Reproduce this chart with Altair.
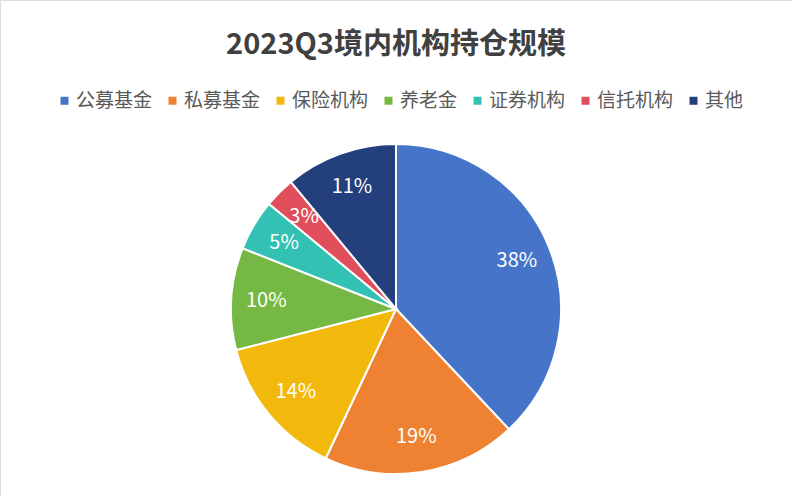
import altair as alt
import pandas as pd

TITLE = "2023Q3境内机构持仓规模"
categories = ["公募基金", "私募基金", "保险机构", "养老金", "证券机构", "信托机构", "其他"]
shares = [38, 19, 14, 10, 5, 3, 11]
labels = ["38%", "19%", "14%", "10%", "5%", "3%", "11%"]
colors = ["#4674C9", "#EE8232", "#F2B80C", "#75B843", "#33C1B3", "#E04E5C", "#233F7C"]

df = pd.DataFrame({
    "category": categories,
    "share": shares,
    "label": labels,
    "order": list(range(len(categories))),
})

FONT = "Noto Sans CJK SC"
CX, CY = 396, 309

base = alt.Chart(df).encode(
    theta=alt.Theta("share:Q", stack=True),
    order=alt.Order("order:Q", sort="ascending"),
)

pie = base.mark_arc(outerRadius=165, stroke="white", strokeWidth=2).encode(
    x=alt.value(CX),
    y=alt.value(CY),
    color=alt.Color(
        "category:N",
        scale=alt.Scale(domain=categories, range=colors),
        sort=categories,
        legend=alt.Legend(
            title=None,
            orient="none",
            direction="horizontal",
            legendX=55,
            legendY=91,
            symbolType="square",
            symbolSize=64,
            symbolStrokeWidth=0,
            symbolOffset=0,
            labelFont=FONT,
            labelFontSize=19,
            labelColor="#595959",
            labelOffset=2,
            columnPadding=10,
            padding=0,
        ),
    ),
)

text = base.mark_text(radius=130, font=FONT, fontSize=20, color="white").encode(
    x=alt.value(CX),
    y=alt.value(CY),
    text="label:N",
)

title = alt.Chart(pd.DataFrame({"t": [TITLE]})).mark_text(
    font=FONT, fontSize=29, fontWeight="bold", color="#404040", align="center", baseline="middle"
).encode(x=alt.value(396), y=alt.value(45), text="t:N")

chart = alt.layer(pie, text, title).properties(
    width=792,
    height=496,
    autosize=alt.AutoSizeParams(type="none"),
    padding=0,
).configure_view(stroke=None).configure(background="white")

chart.save("out.html", embed_options={"renderer": "svg", "actions": False})
